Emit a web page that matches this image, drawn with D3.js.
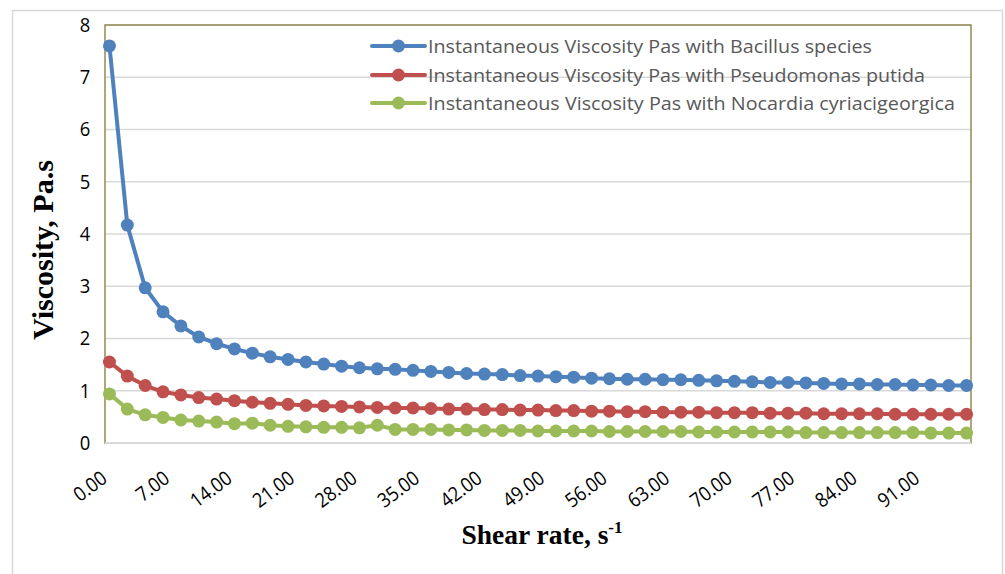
<!DOCTYPE html>
<html><head><meta charset="utf-8">
<script src="https://cdn.jsdelivr.net/npm/d3@7"></script>
<style>body{margin:0;background:#fff}svg{display:block}</style>
</head><body>
<svg id="c" width="1005" height="574"></svg>
<script>
const shearRate = [0.5,2.5,4.5,6.5,8.5,10.5,12.5,14.5,16.5,18.5,20.5,22.5,24.5,26.5,28.5,30.5,32.5,34.5,36.5,38.5,40.5,42.5,44.5,46.5,48.5,50.5,52.5,54.5,56.5,58.5,60.5,62.5,64.5,66.5,68.5,70.5,72.5,74.5,76.5,78.5,80.5,82.5,84.5,86.5,88.5,90.5,92.5,94.5,96.5];
const bacillus = [7.60,4.17,2.97,2.51,2.24,2.03,1.90,1.80,1.72,1.65,1.60,1.55,1.51,1.47,1.44,1.42,1.41,1.39,1.37,1.35,1.33,1.32,1.31,1.29,1.28,1.27,1.26,1.24,1.23,1.22,1.22,1.21,1.21,1.20,1.19,1.18,1.17,1.16,1.16,1.15,1.14,1.13,1.13,1.12,1.12,1.11,1.11,1.10,1.10];
const pseudomonas = [1.55,1.28,1.10,0.98,0.92,0.87,0.84,0.81,0.78,0.76,0.74,0.72,0.71,0.70,0.69,0.68,0.67,0.67,0.66,0.65,0.65,0.64,0.64,0.63,0.63,0.62,0.62,0.61,0.61,0.60,0.60,0.59,0.59,0.59,0.58,0.58,0.58,0.57,0.57,0.57,0.56,0.56,0.56,0.56,0.55,0.55,0.55,0.55,0.55];
const nocardia = [0.94,0.65,0.54,0.49,0.44,0.42,0.40,0.37,0.38,0.34,0.32,0.31,0.30,0.30,0.29,0.34,0.26,0.26,0.26,0.25,0.25,0.24,0.24,0.24,0.23,0.23,0.23,0.23,0.22,0.22,0.22,0.22,0.22,0.21,0.21,0.21,0.21,0.21,0.21,0.20,0.20,0.20,0.20,0.20,0.20,0.20,0.19,0.19,0.19];
const seriesNames = ["Instantaneous Viscosity Pas with Bacillus species","Instantaneous Viscosity Pas with Pseudomonas putida","Instantaneous Viscosity Pas with Nocardia cyriacigeorgica"];
const seriesColors = ["#4F81BD","#C0504D","#9BBB59"];
const xTicks = [0,7,14,21,28,35,42,49,56,63,70,77,84,91];
const yTicks = [0,1,2,3,4,5,6,7,8];

const svg = d3.select("#c");
const L=105,T=25,R=971,B=443;
const x = d3.scaleLinear().domain([0,97]).range([L,R]);
const y = d3.scaleLinear().domain([0,8]).range([B,T]);

// outer chart border
svg.append("rect").attr("x",12.5).attr("y",10.5).attr("width",990).attr("height",580)
  .attr("fill","none").attr("stroke","#D9D9D9").attr("stroke-width",1.5);

// gridlines
svg.append("g").selectAll("line").data(yTicks.slice(1)).join("line")
  .attr("x1",L).attr("x2",R).attr("y1",d=>y(d)).attr("y2",d=>y(d))
  .attr("stroke","#D9D9D9").attr("stroke-width",1.5);

// plot border
svg.append("rect").attr("x",L).attr("y",T).attr("width",R-L).attr("height",B-T)
  .attr("fill","none").attr("stroke","#948A54").attr("stroke-width",1.5);
svg.append("line").attr("x1",L).attr("x2",R).attr("y1",B).attr("y2",B)
  .attr("stroke","#D9D9D9").attr("stroke-width",2);

// y axis labels
const yAxis = d3.axisLeft(y).tickValues(yTicks).tickSize(0).tickPadding(16).tickFormat(d3.format("d"));
const gy = svg.append("g").attr("transform",`translate(${L},0)`).call(yAxis);
gy.select(".domain").remove();
gy.selectAll("text").attr("font-family","'Open Sans', sans-serif").attr("font-size",20).attr("fill","#000")
  .attr("transform","scale(0.92,1)");

// x axis labels
const xAxis = d3.axisBottom(x).tickValues(xTicks).tickSize(0).tickFormat(d3.format(".2f"));
const gx = svg.append("g").attr("transform",`translate(0,${B})`).call(xAxis);
gx.select(".domain").remove();
gx.selectAll("text").attr("font-family","'Open Sans', sans-serif").attr("font-size",20).attr("fill","#000")
  .attr("text-anchor","end").attr("dy",0).attr("y",0)
  .attr("transform","translate(3,38) rotate(-37) scale(0.9,1)");

// series
const all = [bacillus,pseudomonas,nocardia];
const line = d3.line().x((d,i)=>x(shearRate[i])).y(d=>y(d));
all.forEach((s,k)=>{
  const g = svg.append("g");
  g.append("path").datum(s).attr("d",line).attr("fill","none")
   .attr("stroke",seriesColors[k]).attr("stroke-width",4).attr("stroke-linejoin","round");
  g.selectAll("circle").data(s).join("circle")
   .attr("cx",(d,i)=>x(shearRate[i])).attr("cy",d=>y(d)).attr("r",6.5).attr("fill",seriesColors[k]);
});

// legend
const lg = svg.append("g");
const legY=[46,75,103], legW=[444,497,527];
seriesNames.forEach((n,k)=>{
  lg.append("line").attr("x1",372).attr("x2",425).attr("y1",legY[k]).attr("y2",legY[k])
    .attr("stroke",seriesColors[k]).attr("stroke-width",4).attr("stroke-linecap","round");
  lg.append("circle").attr("cx",398.5).attr("cy",legY[k]).attr("r",6.5).attr("fill",seriesColors[k]);
  lg.append("text").attr("x",428).attr("y",legY[k]+7).text(n)
    .attr("font-family","'Open Sans', sans-serif").attr("font-size",19).attr("fill","#595959")
    .attr("textLength",legW[k]).attr("lengthAdjust","spacingAndGlyphs");
});

// axis titles
svg.append("text").attr("transform","translate(53,250) rotate(-90)").attr("text-anchor","middle")
  .attr("font-family","'Liberation Serif', serif").attr("font-weight","bold").attr("font-size",30)
  .text("Viscosity, Pa.s");
const xt = svg.append("text").attr("x",542).attr("y",544).attr("text-anchor","middle")
  .attr("font-family","'Liberation Serif', serif").attr("font-weight","bold").attr("font-size",27.5);
xt.append("tspan").text("Shear rate, s");
xt.append("tspan").attr("font-size",17).attr("dy",-11).text("-1");
</script>
</body></html>
